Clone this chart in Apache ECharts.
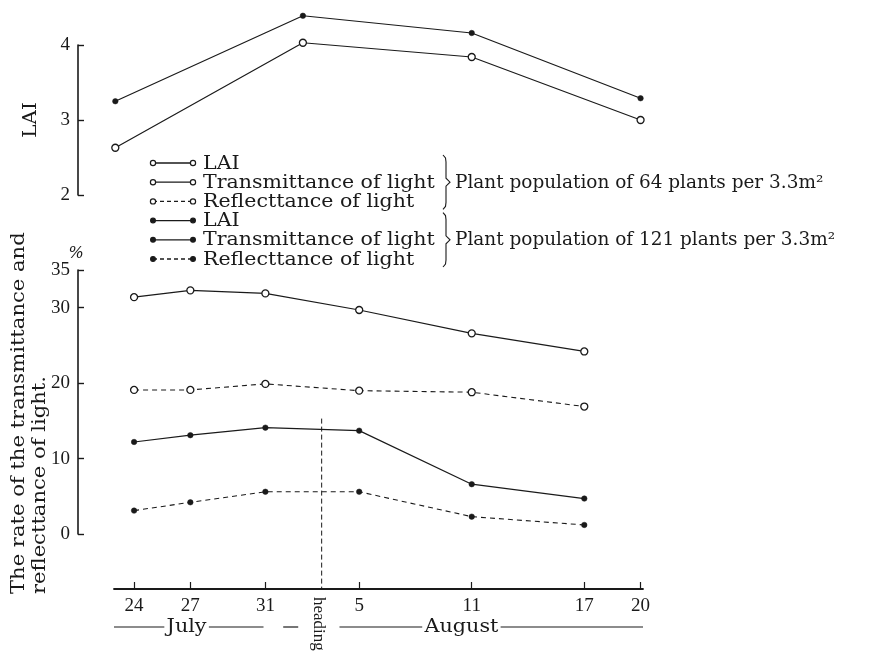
<!DOCTYPE html>
<html>
<head>
<meta charset="utf-8">
<script src="https://cdn.jsdelivr.net/npm/echarts@6/dist/echarts.min.js"></script>
<style>
  html, body { margin: 0; padding: 0; background: #fff; }
  #chart { width: 870px; height: 655px; }
</style>
</head>
<body>
<div id="chart"></div>
<script>
// Days are counted from 1 July, so 5 August is day 36 and 20 August is day 51.
const laiDays = [23, 33, 42, 51];
const lai64 = [2.63, 4.03, 3.84, 3.00];
const lai121 = [3.25, 4.39, 4.16, 3.29];

const lightDays = [24, 27, 31, 36, 42, 48];
const transmittance64 = [31.4, 32.3, 31.9, 29.7, 26.6, 24.2];
const reflectance64 = [19.1, 19.1, 19.9, 19.0, 18.8, 16.9];
const transmittance121 = [12.2, 13.1, 14.1, 13.7, 6.6, 4.7];
const reflectance121 = [3.1, 4.2, 5.6, 5.6, 2.3, 1.2];

const tickDays = [24, 27, 31, 36, 42, 48, 51];
const laiTicks = [2, 3, 4];
const rateTicks = [0, 10, 20, 30, 35];

const headingDay = 34;     // 3 August
const headingTop = 15.3;   // upper end of the heading marker (%)

const legendRows = ['LAI', 'Transmittance of light', 'Reflecttance of light'];
const populationLabels = [
  'Plant population of 64 plants per 3.3m\u00B2',
  'Plant population of 121 plants per 3.3m\u00B2'
];
const monthLabels = ['July', 'August'];

// ---- layout ----
const FONT = 'DejaVu Serif';
const NUM_FONT = 'Liberation Serif';
const INK = '#1a1a1a';
const GRID_LEFT = 114, GRID_RIGHT = 227;
const X_MIN = 22.93, X_MAX = 51.13;
const RATE_TOP = 270, RATE_H = 264;
const X_AXIS_OFFSET = 55;
const Y_AXIS_OFFSET = 36;

const dayLabel = v => String(v > 31 ? v - 31 : v);
const pairs = (xs, ys) => xs.map((x, i) => [x, ys[i]]);

const openSym = { symbol: 'circle', symbolSize: 7,
  itemStyle: { color: '#fff', borderColor: INK, borderWidth: 1.3 } };
const fullSym = { symbol: 'circle', symbolSize: 5.5,
  itemStyle: { color: INK, borderColor: INK, borderWidth: 0.5 } };
const solid = { color: INK, width: 1.2, type: 'solid' };
const dashed = { color: INK, width: 1.1, type: [5, 4] };

function lineSeries(name, xi, yi, data, sym, style) {
  return Object.assign({
    name, type: 'line', xAxisIndex: xi, yAxisIndex: yi,
    data, lineStyle: style, clip: false, silent: true, animation: false,
    emphasis: { disabled: true }
  }, sym);
}

const yAxisBase = {
  axisLine: { show: true, lineStyle: { color: INK, width: 1.6 } },
  axisTick: { show: true, inside: true, length: 6, lineStyle: { color: INK, width: 1.4 } },
  axisLabel: { color: INK, fontFamily: NUM_FONT, fontSize: 19, margin: 8 },
  splitLine: { show: false },
  offset: Y_AXIS_OFFSET
};

const headingBottom = -X_AXIS_OFFSET * (35 / RATE_H);

const chart = echarts.init(document.getElementById('chart'), null, { renderer: 'canvas' });

chart.setOption({
  backgroundColor: '#fff',
  animation: false,
  grid: [
    { left: GRID_LEFT, right: GRID_RIGHT, top: 45, height: 150 },
    { left: GRID_LEFT, right: GRID_RIGHT, top: RATE_TOP, height: RATE_H }
  ],
  xAxis: [
    { type: 'value', gridIndex: 0, min: X_MIN, max: X_MAX, show: false },
    {
      type: 'value', gridIndex: 1, min: X_MIN, max: X_MAX, offset: X_AXIS_OFFSET,
      axisLine: { show: true, onZero: false, lineStyle: { color: INK, width: 1.8 } },
      axisTick: { show: true, inside: true, length: 7, customValues: tickDays,
        lineStyle: { color: INK, width: 1.2 } },
      axisLabel: { customValues: tickDays, formatter: dayLabel, color: INK,
        fontFamily: NUM_FONT, fontSize: 19, margin: 8 },
      splitLine: { show: false }
    }
  ],
  yAxis: [
    Object.assign({}, yAxisBase, { type: 'value', gridIndex: 0, min: 2, max: 4,
      axisTick: Object.assign({}, yAxisBase.axisTick, { customValues: laiTicks }),
      axisLabel: Object.assign({}, yAxisBase.axisLabel, { customValues: laiTicks }) }),
    Object.assign({}, yAxisBase, { type: 'value', gridIndex: 1, min: 0, max: 35,
      axisTick: Object.assign({}, yAxisBase.axisTick, { customValues: rateTicks }),
      axisLabel: Object.assign({}, yAxisBase.axisLabel, { customValues: rateTicks }) })
  ],
  series: [
    lineSeries('LAI (64 plants)', 0, 0, pairs(laiDays, lai64), openSym, solid),
    lineSeries('LAI (121 plants)', 0, 0, pairs(laiDays, lai121), fullSym, solid),
    lineSeries('Transmittance (64 plants)', 1, 1, pairs(lightDays, transmittance64), openSym, solid),
    lineSeries('Reflecttance (64 plants)', 1, 1, pairs(lightDays, reflectance64), openSym, dashed),
    lineSeries('Transmittance (121 plants)', 1, 1, pairs(lightDays, transmittance121), fullSym, solid),
    lineSeries('Reflecttance (121 plants)', 1, 1, pairs(lightDays, reflectance121), fullSym, dashed),
    lineSeries('heading', 1, 1, [[headingDay, headingTop], [headingDay, headingBottom]],
      { symbol: 'none' }, { color: INK, width: 1, type: [5, 3] })
  ]
});

// ---- annotations: legend, axis titles, month brackets ----
// Text is set in a widely spaced serif, so each label is stretched along its baseline.
const graphics = [];
const txt = (x, y, text, extra, rotation, stretch) => ({
  type: 'text', x, y, rotation: rotation || 0, scaleX: stretch || 1, silent: true,
  style: Object.assign({ text, fill: INK, font: '18px "' + FONT + '"',
    align: 'left', verticalAlign: 'middle' }, extra || {})
});

// legend block: two populations, three rows each
const rowY0 = 163, rowStep = 19.2, symX0 = 153, symX1 = 193, textX = 203;
[false, true].forEach((filled, g) => {
  legendRows.forEach((label, r) => {
    const y = rowY0 + (g * 3 + r) * rowStep;
    graphics.push({
      type: 'line', silent: true,
      shape: { x1: symX0, y1: y, x2: symX1, y2: y },
      style: { stroke: INK, lineWidth: 1.3, lineDash: r === 2 ? [4, 3] : null }
    });
    [symX0, symX1].forEach(cx => graphics.push({
      type: 'circle', silent: true,
      shape: { cx, cy: y, r: filled ? 2.4 : 2.6 },
      style: { fill: filled ? INK : '#fff', stroke: INK, lineWidth: 1.2 }
    }));
    graphics.push(txt(textX, y + 1, label, null, 0, 1.14));
  });
  // right-hand brace gathering the three rows
  const top = rowY0 + g * 3 * rowStep - 8, bot = top + 2 * rowStep + 16, mid = (top + bot) / 2;
  const bx = 443;
  graphics.push({
    type: 'polyline', silent: true,
    shape: { points: [[bx, top], [bx + 2.5, top + 3], [bx + 3, top + 7], [bx + 3, mid - 4],
      [bx + 7, mid], [bx + 3, mid + 4], [bx + 3, bot - 7], [bx + 2.5, bot - 3], [bx, bot]] },
    style: { fill: null, stroke: INK, lineWidth: 1.1 }
  });
  graphics.push(txt(455, mid + 1, populationLabels[g], null, 0, 1.025));
});

// axis titles
const titleFont = '19px "' + FONT + '"';
graphics.push(txt(31, 120, 'LAI', { align: 'center', font: titleFont }, Math.PI / 2, 1.05));
graphics.push(txt(19, 594, 'The rate of the transmittance and', { font: titleFont }, Math.PI / 2, 1.11));
graphics.push(txt(40, 594, 'reflecttance of light.', { font: titleFont }, Math.PI / 2, 1.11));
graphics.push(txt(76, 254, '%', { align: 'center', font: 'italic 16px "' + FONT + '"' }));

// month brackets under the date axis
const px = d => chart.convertToPixel({ xAxisIndex: 1, yAxisIndex: 1 }, [d, 0])[0];
const axisY = RATE_TOP + RATE_H + X_AXIS_OFFSET;
const bracketY = axisY + 38;
const brackets = [
  { from: X_MIN, to: 30.9, label: monthLabels[0], at: 26.8 },
  { from: 31.95, to: 32.75 },
  { from: 34.95, to: X_MAX, label: monthLabels[1], at: 41.45 }
];
brackets.forEach(b => {
  graphics.push({
    type: 'line', silent: true,
    shape: { x1: px(b.from), y1: bracketY, x2: px(b.to), y2: bracketY },
    style: { stroke: INK, lineWidth: 1.2 }
  });
  if (b.label) {
    graphics.push(txt(px(b.at), bracketY, b.label, {
      align: 'center', font: '18px "' + FONT + '"',
      backgroundColor: '#fff', padding: [0, 2]
    }, 0, 1.15));
  }
});

// "heading" written downward beneath the marker line
graphics.push(txt(px(headingDay) - 3, axisY + 8, 'heading',
  { font: '17px "' + NUM_FONT + '"' }, -Math.PI / 2));

chart.setOption({ graphic: graphics });
</script>
</body>
</html>
